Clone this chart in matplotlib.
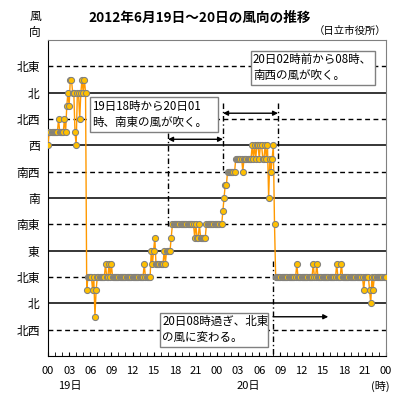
import numpy as np
import matplotlib
matplotlib.use("Agg")
import matplotlib.pyplot as plt
from matplotlib.patches import Rectangle

plt.rcParams['font.family'] = ['Noto Sans CJK JP', 'DejaVu Sans']

# 風向 (0=北西, 1=北, 2=北東, 3=東, 4=南東, 5=南, 6=南西, 7=西, 8=北西, 9=北, 10=北東)
# 10分値、1行 = 1時間
wind_19 = [
    7, 7.5, 7.5, 7.5, 7.5, 7.5,
    7.5, 7.5, 7.5, 8, 7.5, 7.5,
    7.5, 7.5, 8, 7.5, 8.5, 9,
    8.5, 9.5, 9.5, 9, 9, 7.5,
    7, 9, 9, 8, 9, 9.5,
    9, 9.5, 9, 1.5, 2, 2,
    2, 2, 1.5, 2, 0.5, 1.5,
    2, 2, 2, 2, 2, 2,
    2, 2.5, 2, 2, 2.5, 2,
    2.5, 2, 2, 2, 2, 2,
    2, 2, 2, 2, 2, 2,
    2, 2, 2, 2, 2, 2,
    2, 2, 2, 2, 2, 2,
    2, 2, 2, 2, 2.5, 2,
    2, 2, 2, 2, 3, 2.5,
    3, 3.5, 2.5, 2.5, 2.5, 2.5,
    2.5, 2.5, 2.5, 3, 2.5, 3,
    3, 3, 3, 3.5, 4, 4,
    4, 4, 4, 4, 4, 4,
    4, 4, 4, 4, 4, 4,
    4, 4, 4, 4, 4, 3.5,
    4, 3.5, 3.5, 4, 3.5, 3.5,
    3.5, 3.5, 3.5, 4, 4, 4,
    4, 4, 4, 4, 4, 4,
]
wind_20 = [
    4, 4, 4, 4, 4, 4.5,
    5, 5.5, 5.5, 6, 6, 6,
    6, 6, 6, 6, 6.5, 6.5,
    6.5, 6.5, 6.5, 6.5, 6, 6.5,
    6.5, 6.5, 6.5, 6.5, 6.5, 6.5,
    7, 6.5, 7, 6.5, 7, 7,
    6.5, 7, 7, 6.5, 6.5, 7,
    6.5, 7, 5, 6.5, 6, 6.5,
    7, 4, 2, 2, 2, 2,
    2, 2, 2, 2, 2, 2,
    2, 2, 2, 2, 2, 2,
    2, 2, 2.5, 2, 2, 2,
    2, 2, 2, 2, 2, 2,
    2, 2, 2, 2, 2.5, 2,
    2, 2.5, 2, 2, 2, 2,
    2, 2, 2, 2, 2, 2,
    2, 2, 2, 2, 2, 2,
    2.5, 2, 2, 2, 2.5, 2,
    2, 2, 2, 2, 2, 2,
    2, 2, 2, 2, 2, 2,
    2, 2, 2, 2, 2, 1.5,
    2, 2, 2, 2, 1.5, 1,
    2, 1.5, 2, 2, 2, 2,
    2, 2, 2, 2, 2, 2,
    2,
]
dir_labels = ['北西', '北', '北東', '東', '南東', '南', '南西', '西', '北西', '北', '北東']
hour_labels = ['00', '03', '06', '09', '12', '15', '18', '21',
               '00', '03', '06', '09', '12', '15', '18', '21', '00']

wind = np.array(wind_19 + wind_20, dtype=float)
t = np.arange(len(wind)) / 6.0

fig = plt.figure(figsize=(4, 4), dpi=100)
ax = fig.add_axes([0.12, 0.11, 0.845, 0.79])
ax.set_xlim(0, 48)
ax.set_ylim(-1, 11)

for v in range(len(dir_labels)):
    if v % 2 == 1:
        ax.axhline(v, color='black', lw=1.1, zorder=1)
    else:
        ax.axhline(v, color='black', lw=1.0, ls=(0, (3.5, 2.5)), zorder=1)

ax.plot(t, wind, color='#FF9900', lw=1.0, marker='o', ms=4.4,
        mfc='#FFC000', mec='#808080', mew=0.75, zorder=3)

# 説明の枠
boxes = [
    (5.97, 7.5, 18.2, 1.33, '19日18時から20日01\n時、南東の風が吹く。'),
    (28.8, 9.28, 17.6, 1.32, '20日02時前から08時、\n南西の風が吹く。'),
    (15.9, -0.64, 15.35, 1.28, '20日08時過ぎ、北東\nの風に変わる。'),
]
for x0, y0, w, h, txt in boxes:
    ax.add_patch(Rectangle((x0, y0), w, h, facecolor='white', edgecolor='#808080',
                           lw=1.0, zorder=4))
    ax.text(x0 + 0.3, y0 + h / 2, txt, ha='left', va='center', fontsize=8.3,
            linespacing=1.3, zorder=5)

# 期間の線と矢印
dd = (0, (4, 2, 1, 2))
ax.plot([17.05, 17.05], [7.46, 3.9], color='black', lw=1.0, ls=dd, zorder=2)
ax.plot([24.86, 24.86], [8.6, 6.05], color='black', lw=1.0, ls=dd, zorder=2)
ax.plot([32.67, 32.67], [8.6, 5.6], color='black', lw=1.0, ls=dd, zorder=2)
ax.plot([31.96, 31.96], [2.6, -1], color='black', lw=1.0, ls=dd, zorder=2)
ax.annotate('', xy=(17.05, 7.23), xytext=(24.86, 7.23),
            arrowprops=dict(arrowstyle='<|-|>', color='black', lw=1.0,
                            mutation_scale=7, shrinkA=0, shrinkB=0), zorder=6)
ax.annotate('', xy=(24.86, 8.22), xytext=(32.67, 8.22),
            arrowprops=dict(arrowstyle='<|-|>', color='black', lw=1.0,
                            mutation_scale=7, shrinkA=0, shrinkB=0), zorder=6)
ax.annotate('', xy=(39.8, 0.49), xytext=(31.96, 0.49),
            arrowprops=dict(arrowstyle='-|>', color='black', lw=1.0,
                            mutation_scale=7, shrinkA=0, shrinkB=0), zorder=6)

ax.set_yticks(range(len(dir_labels)))
ax.set_yticklabels(dir_labels, fontsize=8.5)
ax.tick_params(axis='y', length=0, pad=6)
ax.set_xticks(np.arange(0, 49, 3))
ax.set_xticklabels(hour_labels, fontsize=8)
ax.set_xticks(np.arange(0, 49, 1), minor=True)
ax.tick_params(axis='x', which='both', direction='in', length=3, pad=7, top=False)

for side in ['top', 'right']:
    ax.spines[side].set_color('#808080')
for side in ['left', 'bottom']:
    ax.spines[side].set_color('black')

fig.text(0.5, 0.955, '2012年6月19日～20日の風向の推移', ha='center', va='center',
         fontsize=9.8, fontweight='bold')
fig.text(0.965, 0.923, '（日立市役所）', ha='right', va='center', fontsize=7.5)
fig.text(0.088, 0.96, '風', ha='center', va='center', fontsize=8.5)
fig.text(0.088, 0.918, '向', ha='center', va='center', fontsize=8.5)
fig.text(0.12 + 0.845 * 3.1 / 48, 0.035, '19日', ha='center', va='center', fontsize=8)
fig.text(0.12 + 0.845 * 28.4 / 48, 0.035, '20日', ha='center', va='center', fontsize=8)
fig.text(0.95, 0.035, '(時)', ha='center', va='center', fontsize=8)

fig.savefig('out.png', dpi=100)
